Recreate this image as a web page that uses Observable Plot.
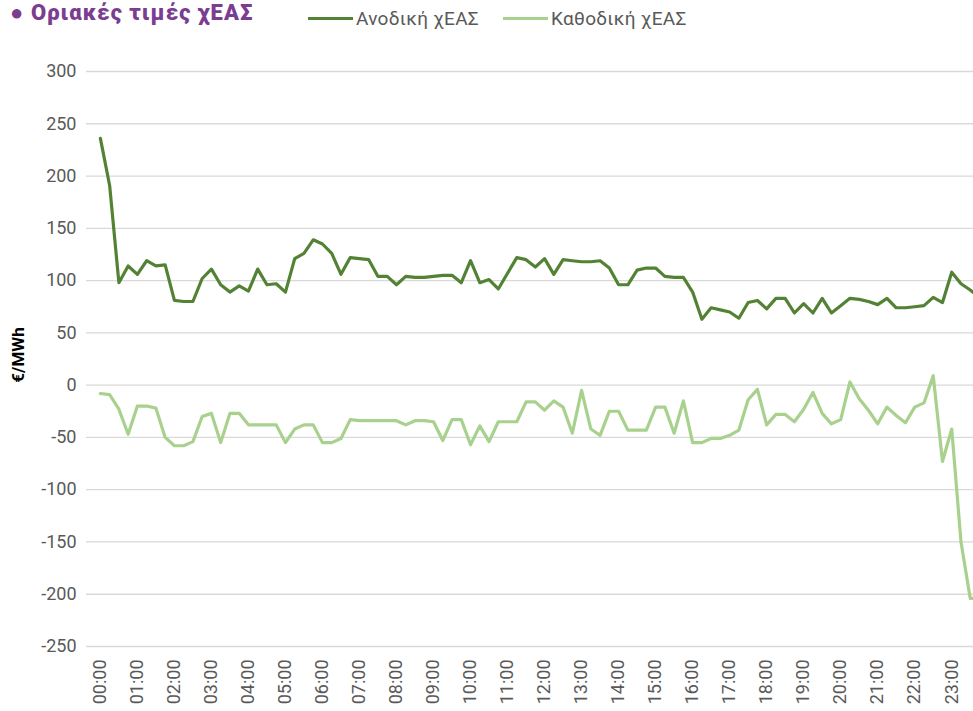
<!DOCTYPE html>
<html>
<head>
<meta charset="utf-8">
<script src="https://cdn.jsdelivr.net/npm/d3@7"></script>
<script src="https://cdn.jsdelivr.net/npm/@observablehq/plot@0.6"></script>
<style>
  html, body { margin: 0; padding: 0; background: #fff; overflow: hidden; }
  #wrap { position: relative; width: 973px; height: 711px; overflow: hidden; }
  #chart { position: absolute; left: 0; top: 0; width: 1000px; }
  #chart svg { max-width: none !important; }
  #title { position: absolute; left: 10px; top: 0px; font: 900 22px Roboto, sans-serif; letter-spacing: 1.1px; color: #7b3d8f; white-space: nowrap; }
  #legend { position: absolute; left: 308px; top: 7px; font: 19px Roboto, sans-serif; letter-spacing: 0.3px; color: #595959; display: flex; align-items: center; white-space: nowrap; }
  .sw { display: inline-block; width: 45px; height: 0; border-top: 3.5px solid; margin-right: 3px; }
  .item { display: flex; align-items: center; margin-right: 24px; }
  #ylab { position: absolute; left: 18px; top: 355px; transform: translate(-50%, -50%) rotate(-90deg); font: bold 17px Roboto, sans-serif; color: #000; white-space: nowrap; }
</style>
</head>
<body>
<div id="wrap">
  <div id="chart"></div>
  <div id="title">● Οριακές τιμές χΕΑΣ</div>
  <div id="legend"></div>
  <div id="ylab">€/MWh</div>
</div>
<script>
const seriesNames = ["Ανοδική χΕΑΣ", "Καθοδική χΕΑΣ"];
const seriesColors = ["#548235", "#a9d18e"];
const hours = ["00:00","01:00","02:00","03:00","04:00","05:00","06:00","07:00","08:00","09:00","10:00","11:00","12:00","13:00","14:00","15:00","16:00","17:00","18:00","19:00","20:00","21:00","22:00","23:00"];
const yTicks = [-250,-200,-150,-100,-50,0,50,100,150,200,250,300];

// quarter-hour values, 00:00 .. 23:45
const anodiki = [
  236,191,98,114, 106,119,114,115, 81,80,80,102, 111,96,89,95,
  90,111,96,97, 89,121,126,139, 135,126,106,122, 121,120,104,104,
  96,104,103,103, 104,105,105,98, 119,98,101,92, 107,122,120,113,
  121,106,120,119, 118,118,119,112, 96,96,110,112, 112,104,103,103,
  89,63,74,72, 70,64,79,81, 73,83,83,69, 78,69,83,69,
  76,83,82,80, 77,83,74,74, 75,76,84,79, 108,97,91,84
];
const kathodiki = [
  -8,-9,-23,-47, -20,-20,-22,-50, -58,-58,-54,-30, -27,-55,-27,-27,
  -38,-38,-38,-38, -55,-42,-38,-38, -55,-55,-51,-33, -34,-34,-34,-34,
  -34,-38,-34,-34, -35,-53,-33,-33, -57,-39,-54,-35, -35,-35,-16,-16,
  -24,-15,-21,-46, -5,-42,-48,-25, -25,-43,-43,-43, -21,-21,-46,-15,
  -55,-55,-51,-51, -48,-43,-14,-4, -38,-28,-28,-35, -23,-7,-27,-37,
  -33,3,-13,-24, -37,-21,-29,-36, -21,-17,9,-73, -42,-150,-204,-204
];

const rows = [];
anodiki.forEach((v, i) => rows.push({i, v, s: seriesNames[0]}));
kathodiki.forEach((v, i) => rows.push({i, v, s: seriesNames[1]}));

const plot = Plot.plot({
  width: 1000,
  height: 711,
  marginTop: 71,
  marginBottom: 65,
  marginLeft: 86,
  marginRight: 21,
  style: {fontFamily: "Roboto, sans-serif", fontSize: "18px", color: "#595959", background: "transparent", overflow: "visible", maxWidth: "none"},
  x: {domain: [-1.5, 95], axis: null, label: null},
  y: {domain: [-250, 300], axis: null, label: null},
  color: {domain: seriesNames, range: seriesColors},
  marks: [
    Plot.gridY(yTicks, {stroke: "#d9d9d9", strokeOpacity: 1, strokeWidth: 1.3}),
    Plot.axisY(yTicks, {tickSize: 0, tickPadding: 10, fill: "#595959", label: null, tickFormat: d => String(d)}),
    Plot.axisX(d3.range(0, 96, 4), {tickRotate: -90, tickSize: 0, tickPadding: 13, fill: "#595959", label: null, tickFormat: i => hours[i / 4]}),
    Plot.line(rows, {x: "i", y: "v", z: "s", stroke: "s", strokeWidth: 3.2, strokeLinejoin: "round"})
  ]
});
document.getElementById("chart").appendChild(plot);

const legend = document.getElementById("legend");
seriesNames.forEach((n, k) => {
  const it = document.createElement("span");
  it.className = "item";
  const sw = document.createElement("span");
  sw.className = "sw";
  sw.style.borderTopColor = seriesColors[k];
  it.appendChild(sw);
  it.appendChild(document.createTextNode(n));
  legend.appendChild(it);
});
</script>
</body>
</html>
